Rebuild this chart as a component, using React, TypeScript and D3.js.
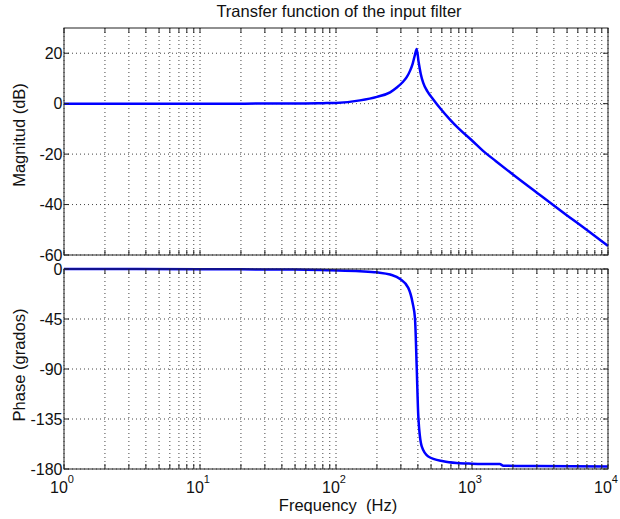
import React from "react";
import * as d3 from "d3";

// values
const magFreq = [1, 10, 50, 80, 100, 150, 200, 250, 280, 310, 331, 350, 366, 380, 392, 405, 420, 438, 470, 519, 600, 689, 800, 1000, 1200, 1500, 2000, 3000, 5000, 7000, 10000];
const magDb = [0, 0, 0.05, 0.2, 0.3, 1.3, 2.7, 4.5, 6.4, 8.6, 10.5, 13.0, 15.8, 19.2, 21.7, 16.5, 11.8, 8.2, 4.9, 1.7, -2.6, -6.3, -9.9, -14.6, -18.6, -22.8, -28.1, -35.3, -44.3, -50.1, -56.4];

const phaseFreq = [1, 10, 50, 90, 150, 200, 250, 296, 340, 366, 381, 392, 403, 427, 477, 615, 771, 1000, 1600, 1700, 3000, 10000];
const phaseDeg = [0, -0.2, -0.5, -1.2, -2, -3, -5, -9, -17, -30.6, -44.7, -87.7, -132.7, -159.7, -168.7, -173, -174.6, -175.2, -175.6, -177, -177.4, -177.8];

const magTicks = [20, 0, -20, -40, -60];
const phaseTicks = [0, -45, -90, -135, -180];
const decades = [1, 10, 100, 1000, 10000];
const exponents = ["0", "1", "2", "3", "4"];

const FONT = "'Liberation Sans', Arial, sans-serif";

const x = d3.scaleLog().domain([1, 10000]).range([64, 608]);
const yMag = d3.scaleLinear().domain([-60, 30]).range([255, 28]);
const yPh = d3.scaleLinear().domain([-180, 0]).range([469, 269]);

const minorX: number[] = [];
decades.slice(0, 4).forEach((d) => {
  for (let k = 2; k <= 9; k++) minorX.push(d * k);
});

const Panel = ({ y, ticks, freq, vals, label, labelY }) => {
  const [y0, y1] = [y.range()[0], y.range()[1]];
  const line = d3
    .line<number>()
    .x((_, i) => x(freq[i]))
    .y((v) => y(v))
    .curve(d3.curveMonotoneX);
  const tl = 5;
  return (
    <g>
      {/* grid */}
      {[...decades, ...minorX].map((f, i) => (
        <line key={"gx" + i} x1={x(f)} x2={x(f)} y1={y1} y2={y0} stroke="#444" strokeWidth={1} strokeDasharray="1,3" />
      ))}
      {ticks.map((t, i) => (
        <line key={"gy" + i} x1={64} x2={608} y1={y(t)} y2={y(t)} stroke="#444" strokeWidth={1} strokeDasharray="1,3" />
      ))}
      {/* curve */}
      <path d={line(vals) || ""} fill="none" stroke="#0000ff" strokeWidth={2.5} strokeLinejoin="round" />
      {/* box */}
      <rect x={64} y={y1} width={544} height={y0 - y1} fill="none" stroke="#222" strokeWidth={1} />
      {/* x ticks, top and bottom */}
      {[...decades, ...minorX].map((f, i) => (
        <g key={"tx" + i}>
          <line x1={x(f)} x2={x(f)} y1={y0} y2={y0 - tl} stroke="#222" />
          <line x1={x(f)} x2={x(f)} y1={y1} y2={y1 + tl} stroke="#222" />
        </g>
      ))}
      {/* y ticks */}
      {ticks.map((t, i) => (
        <g key={"ty" + i}>
          <line x1={64} x2={64 + tl} y1={y(t)} y2={y(t)} stroke="#222" />
          <line x1={608} x2={608 - tl} y1={y(t)} y2={y(t)} stroke="#222" />
          <text x={62.5} y={y(t)} dy="0.36em" textAnchor="end" fontSize={16} fontFamily={FONT} fill="#111">
            {t}
          </text>
        </g>
      ))}
      <text
        transform={`translate(25, ${labelY}) rotate(-90)`}
        textAnchor="middle"
        fontSize={16.5}
        fontFamily={FONT}
        fill="#111"
      >
        {label}
      </text>
    </g>
  );
};

export default function App() {
  return (
    <svg width={620} height={519} style={{ position: "absolute", left: 0, top: 0, background: "#fff" }}>
      <text x={339} y={17} textAnchor="middle" fontSize={16.5} fontFamily={FONT} fill="#111">
        Transfer function of the input filter
      </text>
      <Panel y={yMag} ticks={magTicks} freq={magFreq} vals={magDb} label="Magnitud (dB)" labelY={135} />
      <Panel y={yPh} ticks={phaseTicks} freq={phaseFreq} vals={phaseDeg} label="Phase (grados)" labelY={365} />
      {decades.map((d, i) => (
        <text key={"xl" + i} x={x(d) - 2} y={493} textAnchor="middle" fontSize={16} fontFamily={FONT} fill="#111">
          10
          <tspan dx={0} dy={-10} fontSize={11}>
            {exponents[i]}
          </tspan>
        </text>
      ))}
      <text x={338} y={511} textAnchor="middle" fontSize={16.5} fontFamily={FONT} fill="#111" style={{ whiteSpace: "pre" }}>
        {"Frequency  (Hz)"}
      </text>
    </svg>
  );
}
